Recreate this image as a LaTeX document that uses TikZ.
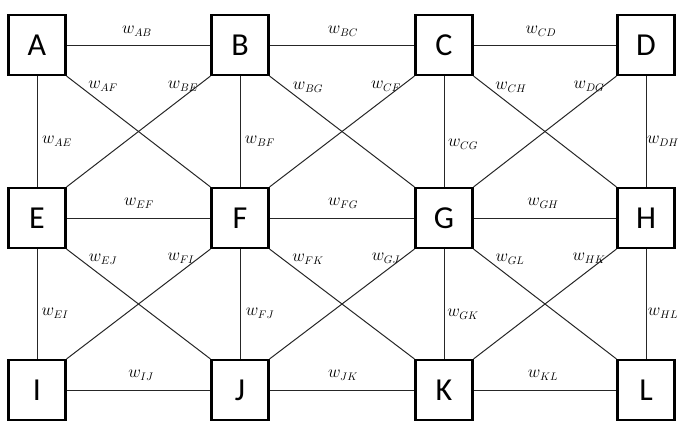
\documentclass[tikz,border=0pt]{standalone}
\usepackage{fontspec}
\newfontfamily\boxfont{Carlito}
\tikzset{
  vbox/.style={draw=black, line width=2.2pt, fill=white, minimum width=57pt, minimum height=60pt, inner sep=0pt, font=\boxfont\fontsize{32}{32}\selectfont},
  edge/.style={draw=black!85, line width=1pt},
  wlab/.style={font=\fontsize{16}{16}\selectfont, inner sep=0pt}
}
\begin{document}
\begin{tikzpicture}[x=1pt,y=-1pt]
\clip (0,0) rectangle (679,421);
\useasboundingbox (0,0) rectangle (679,421);
% nodes
\node[vbox] (A) at (37,45) {A};
\node[vbox] (B) at (240,45) {B};
\node[vbox] (C) at (444,45) {C};
\node[vbox] (D) at (646,45) {D};
\node[vbox] (E) at (37,218) {E};
\node[vbox] (F) at (240,218) {F};
\node[vbox] (G) at (444,218) {G};
\node[vbox] (H) at (646,218) {H};
\node[vbox] (I) at (37,390) {I};
\node[vbox] (J) at (240,390) {J};
\node[vbox] (K) at (444,390) {K};
\node[vbox] (L) at (646,390) {L};
% edges
\draw[edge] (A) -- (B);
\draw[edge] (B) -- (C);
\draw[edge] (C) -- (D);
\draw[edge] (E) -- (F);
\draw[edge] (F) -- (G);
\draw[edge] (G) -- (H);
\draw[edge] (I) -- (J);
\draw[edge] (J) -- (K);
\draw[edge] (K) -- (L);
\draw[edge] (A) -- (E);
\draw[edge] (E) -- (I);
\draw[edge] (B) -- (F);
\draw[edge] (F) -- (J);
\draw[edge] (C) -- (G);
\draw[edge] (G) -- (K);
\draw[edge] (D) -- (H);
\draw[edge] (H) -- (L);
\draw[edge] (A.south east) -- (F.north west);
\draw[edge] (B.south west) -- (E.north east);
\draw[edge] (B.south east) -- (G.north west);
\draw[edge] (C.south west) -- (F.north east);
\draw[edge] (C.south east) -- (H.north west);
\draw[edge] (D.south west) -- (G.north east);
\draw[edge] (E.south east) -- (J.north west);
\draw[edge] (F.south west) -- (I.north east);
\draw[edge] (F.south east) -- (K.north west);
\draw[edge] (G.south west) -- (J.north east);
\draw[edge] (G.south east) -- (L.north west);
\draw[edge] (H.south west) -- (K.north east);
% labels
\node[wlab] (lAB) at (137,31) {$w_{AB}$};
\node[wlab] (lBC) at (343,31) {$w_{BC}$};
\node[wlab] (lCD) at (541,31) {$w_{CD}$};
\node[wlab] (lAF) at (103,86) {$w_{AF}$};
\node[wlab] (lBE) at (183,86) {$w_{BE}$};
\node[wlab] (lBG) at (308,87) {$w_{BG}$};
\node[wlab] (lCF) at (386,86) {$w_{CF}$};
\node[wlab] (lCH) at (511,87) {$w_{CH}$};
\node[wlab] (lDG) at (589,86) {$w_{DG}$};
\node[wlab] (lAE) at (57,141) {$w_{AE}$};
\node[wlab] (lBF) at (260,141) {$w_{BF}$};
\node[wlab] (lCG) at (463,144) {$w_{CG}$};
\node[wlab] (lDH) at (663,141) {$w_{DH}$};
\node[wlab] (lEF) at (139,203) {$w_{EF}$};
\node[wlab] (lFG) at (343,203) {$w_{FG}$};
\node[wlab] (lGH) at (543,203) {$w_{GH}$};
\node[wlab] (lEJ) at (103,259) {$w_{EJ}$};
\node[wlab] (lFI) at (181,258) {$w_{FI}$};
\node[wlab] (lFK) at (308,259) {$w_{FK}$};
\node[wlab] (lGJ) at (386,258) {$w_{GJ}$};
\node[wlab] (lGL) at (510,259) {$w_{GL}$};
\node[wlab] (lHK) at (589,258) {$w_{HK}$};
\node[wlab] (lEI) at (55,313) {$w_{EI}$};
\node[wlab] (lFJ) at (260,313) {$w_{FJ}$};
\node[wlab] (lGK) at (463,314) {$w_{GK}$};
\node[wlab] (lHL) at (663,313) {$w_{HL}$};
\node[wlab] (lIJ) at (141,375) {$w_{IJ}$};
\node[wlab] (lJK) at (343,375) {$w_{JK}$};
\node[wlab] (lKL) at (543,375) {$w_{KL}$};
\end{tikzpicture}
\end{document}
